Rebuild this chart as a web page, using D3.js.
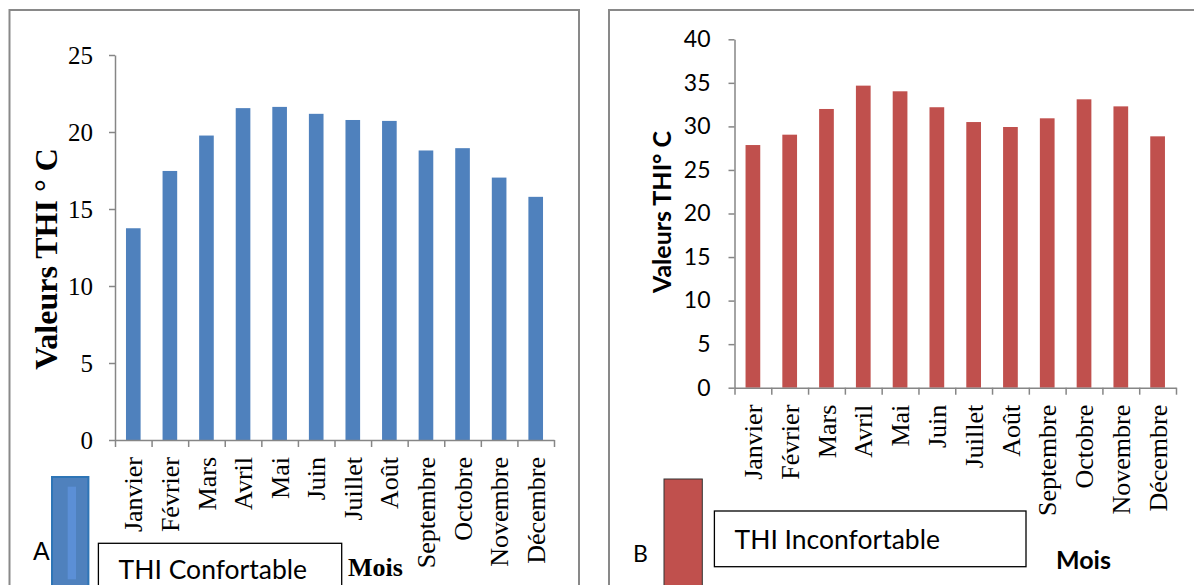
<!DOCTYPE html>
<html>
<head>
<meta charset="utf-8">
<script src="https://cdn.jsdelivr.net/npm/d3@7"></script>
<style>
  html, body { margin: 0; padding: 0; background: #fff; }
  svg { display: block; }
  .axis path, .axis line { stroke: #868686; stroke-width: 1.5; }
</style>
</head>
<body>
<svg id="chart" width="1194" height="585"></svg>
<script>
// Monthly THI values (°C)
const months = ["Janvier", "Février", "Mars", "Avril", "Mai", "Juin",
  "Juillet", "Août", "Septembre", "Octobre", "Novembre", "Décembre"];
const thiConfortable = [13.75, 17.47, 19.77, 21.55, 21.63, 21.18, 20.78, 20.72, 18.8, 18.95, 17.04, 15.79];
const thiInconfortable = [27.86, 29.05, 32.0, 34.68, 34.03, 32.2, 30.5, 29.93, 30.93, 33.11, 32.3, 28.86];
const ticksA = [0, 5, 10, 15, 20, 25];
const ticksB = [0, 5, 10, 15, 20, 25, 30, 35, 40];

const svg = d3.select("#chart");
const SERIF = "'Liberation Serif', 'Times New Roman', serif";
const SANS = "Lato, 'Noto Sans', sans-serif";

function panel(cfg) {
  const g = svg.append("g");

  // outer frame (runs past the bottom edge)
  g.append("rect")
    .attr("x", cfg.frame[0]).attr("y", cfg.frame[1])
    .attr("width", cfg.frame[2]).attr("height", cfg.frame[3])
    .attr("fill", "none").attr("stroke", "#898989").attr("stroke-width", 2);

  const y = d3.scaleLinear().domain([0, d3.max(cfg.ticks)]).range([cfg.y0, cfg.y1]);
  const x = d3.scaleBand().domain(months).range([cfg.x0, cfg.x1])
    .paddingInner(0.6).paddingOuter(0.3);
  const edges = d3.scaleLinear().domain([0, months.length]).range([cfg.x0, cfg.x1]);

  // bars
  g.selectAll("rect.bar").data(cfg.values).join("rect")
    .attr("class", "bar")
    .attr("x", (d, i) => x(months[i]))
    .attr("width", x.bandwidth())
    .attr("y", d => y(d))
    .attr("height", d => y(0) - y(d))
    .attr("fill", cfg.color);

  // y axis
  const ya = g.append("g").attr("class", "axis")
    .attr("transform", `translate(${cfg.x0},0)`)
    .call(d3.axisLeft(y).tickValues(cfg.ticks).tickSize(6).tickSizeOuter(0).tickPadding(cfg.tickPad));
  ya.selectAll("text")
    .attr("fill", "#000").style("font-family", cfg.tickFont).style("font-size", cfg.tickSize + "px");

  // x axis with ticks at category boundaries
  g.append("g").attr("class", "axis")
    .attr("transform", `translate(0,${cfg.y0})`)
    .call(d3.axisBottom(edges).tickValues(d3.range(months.length + 1))
      .tickFormat("").tickSize(7).tickSizeOuter(0));

  // month labels, rotated
  g.selectAll("text.month").data(months).join("text")
    .attr("class", "month")
    .attr("transform", d => `translate(${x(d) + x.bandwidth() / 2},${cfg.y0 + cfg.labelGap}) rotate(-90)`)
    .attr("dy", "0.35em")
    .attr("text-anchor", "end")
    .style("font-family", SERIF).style("font-size", "26px")
    .text(d => d);

  // y title
  g.append("text")
    .attr("transform", `translate(${cfg.titlePos[0]},${cfg.titlePos[1]}) rotate(-90)`)
    .attr("text-anchor", "middle")
    .attr("dy", "0.35em")
    .style("font-family", cfg.titleFont).style("font-size", cfg.titleSize + "px")
    .style("font-weight", "bold")
    .text(cfg.title);

  // "Mois"
  g.append("text")
    .attr("x", cfg.moisPos[0]).attr("y", cfg.moisPos[1])
    .style("font-family", cfg.titleFont).style("font-size", cfg.moisSize + "px")
    .style("font-weight", "bold")
    .text("Mois");

  // legend box
  g.append("rect")
    .attr("x", cfg.box[0]).attr("y", cfg.box[1])
    .attr("width", cfg.box[2]).attr("height", cfg.box[3])
    .attr("fill", "#fff").attr("stroke", "#000").attr("stroke-width", 1.3);
  g.append("text")
    .attr("x", cfg.boxText[0]).attr("y", cfg.boxText[1])
    .style("font-family", SANS).style("font-size", "26.5px")
    .text(cfg.legend);

  return g;
}

const A = panel({
  frame: [9.5, 10, 569.5, 620],
  x0: 115, x1: 554, y0: 440, y1: 55,
  ticks: ticksA, values: thiConfortable, color: "#4F81BD",
  tickFont: SERIF, tickSize: 25, tickPad: 16,
  labelGap: 17,
  title: "Valeurs THI ° C", titleFont: SERIF, titleSize: 32, titlePos: [46, 259],
  moisPos: [348, 576], moisSize: 26,
  box: [98.4, 543.3, 243.3, 70], boxText: [118.6, 578.5],
  legend: "THI Confortable"
});
// colour swatch A
A.append("rect").attr("x", 52).attr("y", 477).attr("width", 36.4).attr("height", 130)
  .attr("fill", "#4F81BD").attr("stroke", "#2E75B6").attr("stroke-width", 2);
A.append("rect").attr("x", 67.7).attr("y", 486.7).attr("width", 8.3).attr("height", 92.6)
  .attr("fill", "#5B8FD6");
A.append("text").attr("x", 33).attr("y", 560)
  .style("font-family", "'Liberation Sans', Arial, sans-serif").style("font-size", "25px")
  .text("A");

const B = panel({
  frame: [609, 10, 620, 620],
  x0: 734.5, x1: 1176, y0: 387.7, y1: 39.3,
  ticks: ticksB, values: thiInconfortable, color: "#C0504D",
  tickFont: SANS, tickSize: 23, tickPad: 18,
  labelGap: 17,
  title: "Valeurs THI° C", titleFont: SANS, titleSize: 25, titlePos: [662, 212],
  moisPos: [1056, 569], moisSize: 25,
  box: [714.4, 511, 311.6, 55.7], boxText: [734.5, 549],
  legend: "THI Inconfortable"
});
// colour swatch B
B.append("rect").attr("x", 664).attr("y", 479).attr("width", 38.3).attr("height", 130)
  .attr("fill", "#C0504D").attr("stroke", "#333").attr("stroke-width", 1);
B.append("text").attr("x", 633).attr("y", 562)
  .style("font-family", SANS).style("font-size", "23px")
  .text("B");
</script>
</body>
</html>
